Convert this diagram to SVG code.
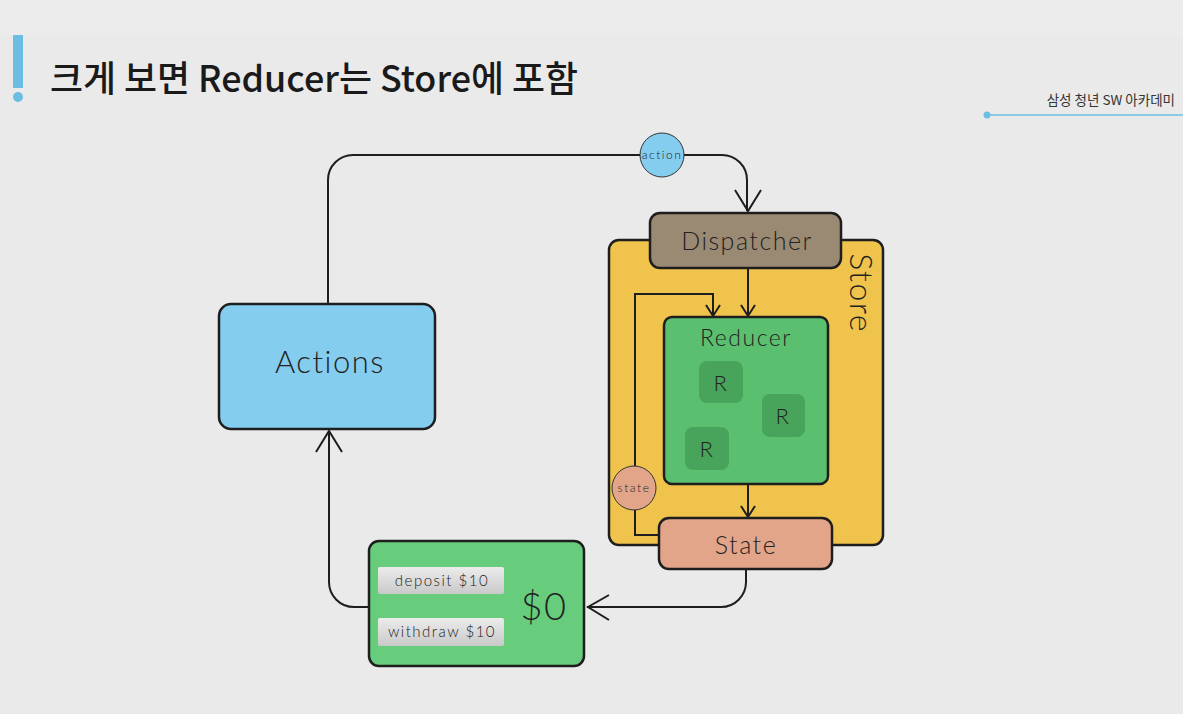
<svg xmlns="http://www.w3.org/2000/svg" width="1183" height="714" viewBox="0 0 1183 714">
<defs>
<style>
.n{stroke:#1e1e1e;stroke-width:2.5}
.t{font-family:Lato,"Open Sans","DejaVu Sans",sans-serif;font-weight:300;fill:#222;text-anchor:middle;letter-spacing:1.5px}
.c{fill:none;stroke:#1e1e1e;stroke-width:2}
.k{font-family:"Noto Sans CJK KR","Noto Sans",sans-serif}
</style>
<linearGradient id="btn" x1="0" y1="0" x2="0" y2="1">
<stop offset="0" stop-color="#ececec"/><stop offset="1" stop-color="#c9c9c9"/>
</linearGradient>
</defs>
<rect width="1183" height="714" fill="#eaeaea"/>
<rect width="1183" height="35" fill="#ececec"/>

<g id="title">
<rect x="13" y="35" width="10" height="53" fill="#6bbde4"/>
<circle cx="18" cy="97" r="5" fill="#6bbde4"/>
<text x="50" y="92" class="k" font-size="36" font-weight="500" fill="#1a1a1a" textLength="528" lengthAdjust="spacingAndGlyphs">크게 보면 Reducer는 Store에 포함</text>
<text x="1175" y="105" class="k" font-size="13.5" fill="#333" text-anchor="end">삼성 청년 SW 아카데미</text>
<line x1="987" y1="115" x2="1183" y2="115" stroke="#6bbfe0" stroke-width="1.5"/>
<circle cx="987" cy="115" r="3.5" fill="#6bbfe0"/>
</g>

<g id="store">
<rect x="609" y="240" width="274" height="305" rx="10" fill="#f0c34c" class="n"/>
<text class="t" font-size="32" letter-spacing="2" transform="translate(858,293) rotate(90)" dominant-baseline="middle">Store</text>
</g>

<g id="connectors">
<path class="c" d="M328,304 V180 A25,25 0 0 1 353,155 H722 A25,25 0 0 1 747,180 V211"/>
<path class="c" d="M735,190 L748,211 L761,190" stroke-width="2.5"/>
<path class="c" d="M748,268 V316"/>
<path class="c" d="M741,305 L748,316 L755,305"/>
<path class="c" d="M659,535 H635 V294 H713 V316"/>
<path class="c" d="M706,305 L713,316 L720,305"/>
<path class="c" d="M748,484 V517"/>
<path class="c" d="M741,506 L748,517 L755,506"/>
<path class="c" d="M746,569 V582 A25,25 0 0 1 721,607 H587"/>
<path class="c" d="M609,595 L588,607 L609,620" stroke-width="2.5"/>
<path class="c" d="M369,607 H354 A25,25 0 0 1 329,582 V431"/>
<path class="c" d="M316,452 L329,431 L342,452" stroke-width="2.5"/>
</g>

<g id="action">
<circle cx="662" cy="155" r="22" fill="#85cdee" stroke="#333" stroke-width="1"/>
<text x="662" y="159" class="t" font-size="12" font-weight="400" letter-spacing="0.5">action</text>
</g>

<g id="dispatcher">
<rect x="650" y="213" width="191" height="55" rx="10" fill="#9b8a73" class="n"/>
<text x="747" y="250" class="t" font-size="25" letter-spacing="2.5">Dispatcher</text>
</g>

<g id="reducer">
<rect x="664" y="317" width="164" height="167" rx="8" fill="#5abf6e" class="n"/>
<text x="746" y="346" class="t" font-size="23" letter-spacing="2.5">Reducer</text>
<rect x="699" y="361" width="44" height="42" rx="8" fill="#49a45b"/>
<text x="721" y="391" class="t" font-size="22" letter-spacing="0">R</text>
<rect x="762" y="394" width="43" height="43" rx="8" fill="#49a45b"/>
<text x="783" y="424" class="t" font-size="22" letter-spacing="0">R</text>
<rect x="685" y="427" width="44" height="43" rx="8" fill="#49a45b"/>
<text x="707" y="457" class="t" font-size="22" letter-spacing="0">R</text>
</g>

<g id="state-circle">
<circle cx="634" cy="488" r="22" fill="#e3a589" stroke="#333" stroke-width="1"/>
<text x="634" y="492" class="t" font-size="12" font-weight="400" letter-spacing="0.5">state</text>
</g>

<g id="state">
<rect x="659" y="518" width="173" height="51" rx="10" fill="#e3a589" class="n"/>
<text x="746" y="554" class="t" font-size="25" letter-spacing="2.5">State</text>
</g>

<g id="actions">
<rect x="219" y="304" width="216" height="125" rx="12" fill="#85cdee" class="n"/>
<text x="330" y="373" class="t" font-size="31" letter-spacing="3">Actions</text>
</g>

<g id="view">
<rect x="369" y="541" width="215" height="125" rx="10" fill="#67cd7d" class="n"/>
<rect x="378" y="567" width="126" height="27" rx="2" fill="url(#btn)"/>
<text x="442" y="586" class="t" font-size="15" font-weight="400" letter-spacing="1.2">deposit $10</text>
<rect x="378" y="618" width="126" height="28" rx="2" fill="url(#btn)"/>
<text x="442" y="637" class="t" font-size="15" font-weight="400" letter-spacing="1.2">withdraw $10</text>
<text x="544" y="620" class="t" font-size="38" letter-spacing="0">$0</text>
</g>
</svg>
